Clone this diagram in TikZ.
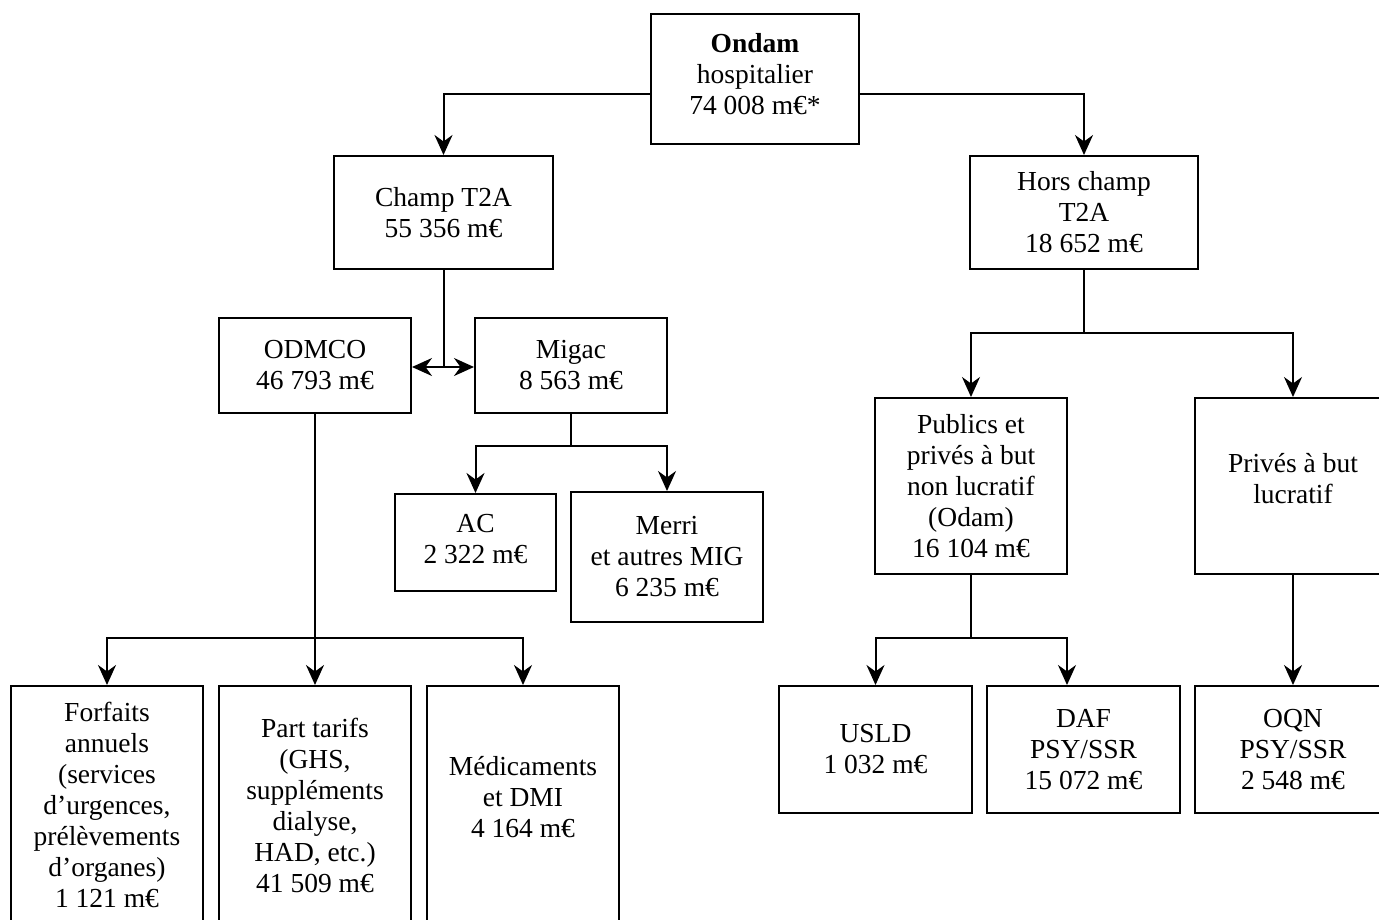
\documentclass[tikz,border=0pt]{standalone}
\usepackage{fontspec}
\setmainfont{Liberation Serif}
\usetikzlibrary{arrows.meta}
\tikzset{
  box/.style={draw, line width=2pt, align=center, inner sep=0pt, font=\fontsize{27.5}{31}\selectfont},
  ln/.style={line width=2pt},
  arr/.style={line width=2pt, -{Stealth[length=20pt,width=18pt,inset=6.5pt]}}
}
\begin{document}
\begin{tikzpicture}[x=1pt,y=-1pt]
\useasboundingbox (0,0) rectangle (1379,919);
\fill[white] (0,0) rectangle (1379,919);
\clip (0,0) rectangle (1379,919);

\node[box, minimum width=208, minimum height=130] (ondam) at (755,78.5) {\textbf{Ondam}\\hospitalier\\74 008 m€*\\[-21pt]};
\node[box, minimum width=219, minimum height=113] (champ) at (443.5,212.5) {Champ T2A\\55 356 m€};
\node[box, minimum width=228, minimum height=113] (hors) at (1084,212.5) {Hors champ\\T2A\\18 652 m€};
\node[box, minimum width=192, minimum height=95] (odmco) at (315,365.5) {ODMCO\\46 793 m€};
\node[box, minimum width=192, minimum height=95] (migac) at (571,365.5) {Migac\\8 563 m€};
\node[box, minimum width=161, minimum height=97] (ac) at (475.5,542.5) {AC\\2 322 m€\\[-23pt]};
\node[box, minimum width=192, minimum height=130] (merri) at (667,557) {Merri\\et autres MIG\\6 235 m€};
\node[box, minimum width=192, minimum height=238] (forfaits) at (107,805) {Forfaits\\annuels\\(services\\d’urgences,\\prélèvements\\d’organes)\\1 121 m€};
\node[box, minimum width=192, minimum height=238] (part) at (315,805) {Part tarifs\\(GHS,\\suppléments\\dialyse,\\HAD, etc.)\\41 509 m€};
\node[box, minimum width=192, minimum height=238] (medic) at (523,805) {Médicaments\\et DMI\\4 164 m€\\[-15pt]};
\node[box, minimum width=192, minimum height=176] (publics) at (971,486) {Publics et\\privés à but\\non lucratif\\(Odam)\\16 104 m€};
\node[box, minimum width=196, minimum height=176] (prives) at (1293,486) {Privés à but\\lucratif\\[-15pt]};
\node[box, minimum width=193, minimum height=127] (usld) at (875.5,749.5) {USLD\\1 032 m€};
\node[box, minimum width=193, minimum height=127] (daf) at (1083.5,749.5) {DAF\\PSY/SSR\\15 072 m€};
\node[box, minimum width=196, minimum height=127] (oqn) at (1293,749.5) {OQN\\PSY/SSR\\2 548 m€};

\draw[arr] ([yshift=-15.5pt]ondam.west) -| (champ.north);
\draw[arr] ([yshift=-15.5pt]ondam.east) -| (hors.north);

\coordinate (j1) at (443.5,367);
\draw[ln] (champ.south) -- (j1);
\draw[arr] (j1) -- (odmco.east |- j1);
\draw[arr] (j1) -- (migac.west |- j1);

\coordinate (j2) at (571,446);
\draw[ln] (migac.south) -- (j2);
\draw[arr] (j2) -| (ac.north);
\draw[arr] (j2) -| (merri.north);

\coordinate (j3) at (315,638);
\draw[arr] (odmco.south) -- (part.north);
\draw[arr] (j3) -| (forfaits.north);
\draw[arr] (j3) -| (medic.north);

\coordinate (j4) at (1084,333);
\draw[ln] (hors.south) -- (j4);
\draw[arr] (j4) -| (publics.north);
\draw[arr] (j4) -| (prives.north);

\coordinate (j5) at (971,638);
\draw[ln] (publics.south) -- (j5);
\draw[arr] (j5) -| (usld.north);
\draw[arr] (j5) -| ([xshift=-16.5pt]daf.north);

\draw[arr] (prives.south) -- (oqn.north);
\end{tikzpicture}
\end{document}
